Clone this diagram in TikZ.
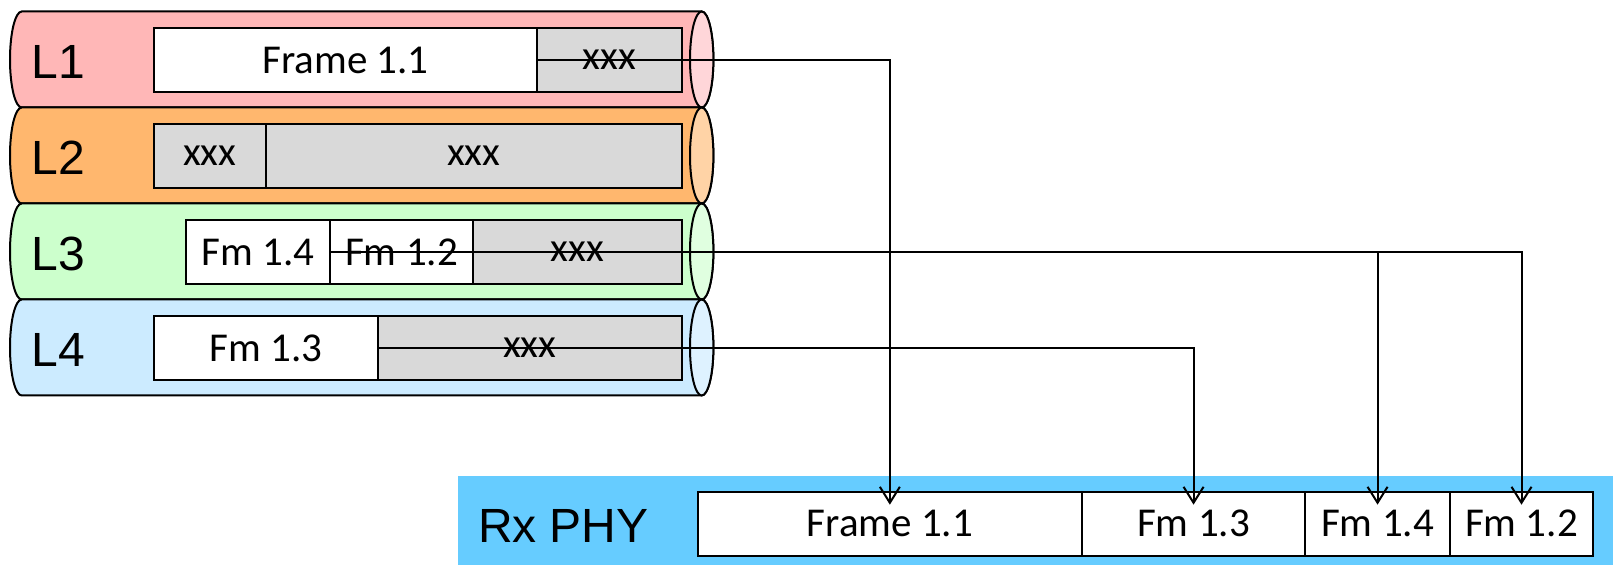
\documentclass[tikz,border=0pt]{standalone}
\usepackage{fontspec}
\setmainfont{Carlito}
\newfontfamily\tagfont{Liberation Sans}
\usetikzlibrary{arrows.meta,positioning}
\definecolor{ink}{HTML}{000000}
\definecolor{filler}{HTML}{D9D9D9}
\definecolor{phyblue}{HTML}{66CCFF}
\definecolor{redbody}{HTML}{FFB7B7}
\definecolor{redend}{HTML}{FFD6D9}
\definecolor{orbody}{HTML}{FFB76E}
\definecolor{orend}{HTML}{FFD3A6}
\definecolor{grbody}{HTML}{CCFFCC}
\definecolor{grend}{HTML}{E0FFE0}
\definecolor{blbody}{HTML}{CCEBFF}
\definecolor{blend}{HTML}{DEF2FF}
\tikzset{
  every picture/.style={line width=1pt, draw=ink, text=ink},
  rim/.style={x radius=5.85pt, y radius=24pt},
  cell/.style={draw=ink, fill=white, minimum height=32pt, inner sep=0pt, outer sep=0pt,
    font=\fontsize{20.5}{24}\selectfont},
  pad/.style={cell, fill=filler},
  tag/.style={font=\tagfont\fontsize{24}{28}\selectfont, inner sep=0pt, anchor=base west},
  flow/.style={-{Straight Barb[length=8pt,width=10pt]}, draw=ink, shorten >=-6.5pt},
}
\begin{document}
\begin{tikzpicture}[x=0.5pt, y=-0.5pt]
\useasboundingbox (0,0) rectangle (1613,565);
% lanes
\foreach \cy/\body/\cap in {59.5/redbody/redend, 155.5/orbody/orend, 251.5/grbody/grend, 347.5/blbody/blend} {
  \filldraw[fill=\body] (701.7,\cy-48) -- (21.7,\cy-48) arc[start angle=90, end angle=270, rim]
    -- (701.7,\cy+48) arc[start angle=-90, end angle=90, rim] -- cycle;
  \filldraw[fill=\cap] (701.7,\cy) ellipse[rim];
}
\node[tag] (t1) at (31,79) {L1};
\node[tag] (t2) at (31,175) {L2};
\node[tag] (t3) at (31,271) {L3};
\node[tag] (t4) at (31,367) {L4};
% frames in the lanes
\node[cell, minimum width=191.6pt, anchor=west] (f11) at (154,60) {Frame 1.1};
\node[pad, minimum width=72.4pt, right=0pt of f11] (l1x) {xxx};
\node[pad, minimum width=55.8pt, anchor=west] (l2a) at (154,156) {xxx};
\node[pad, minimum width=208.2pt, right=0pt of l2a] (l2b) {xxx};
\node[cell, minimum width=71.85pt, anchor=west] (m14) at (186,252) {Fm 1.4};
\node[cell, minimum width=71.85pt, right=0pt of m14] (m12) {Fm 1.2};
\node[pad, minimum width=104.2pt, right=0pt of m12] (l3x) {xxx};
\node[cell, minimum width=111.8pt, anchor=west] (m13) at (154,348) {Fm 1.3};
\node[pad, minimum width=152.2pt, right=0pt of m13] (l4x) {xxx};
% receiver
\node[fill=phyblue, minimum width=577.5pt, minimum height=44.5pt, inner sep=0pt] (phy) at (1035.5,520.5) {};
\node[tag] (rx) at (477,542.7) {Rx PHY};
\node[cell, minimum width=191.85pt, anchor=west] (r11) at (698,523.7) {Frame 1.1};
\node[cell, minimum width=111.85pt, right=0pt of r11] (r13) {Fm 1.3};
\node[cell, minimum width=72.15pt, right=0pt of r13] (r14) {Fm 1.4};
\node[cell, minimum width=71.8pt, right=0pt of r14] (r12) {Fm 1.2};
% links
\draw[flow] (l1x.west) -| (r11.north);
\draw[flow] (m12.west) -| (r14.north);
\draw[flow] (m12.west) -| (r12.north);
\draw[flow] (l4x.west) -| (r13.north);
\end{tikzpicture}
\end{document}
